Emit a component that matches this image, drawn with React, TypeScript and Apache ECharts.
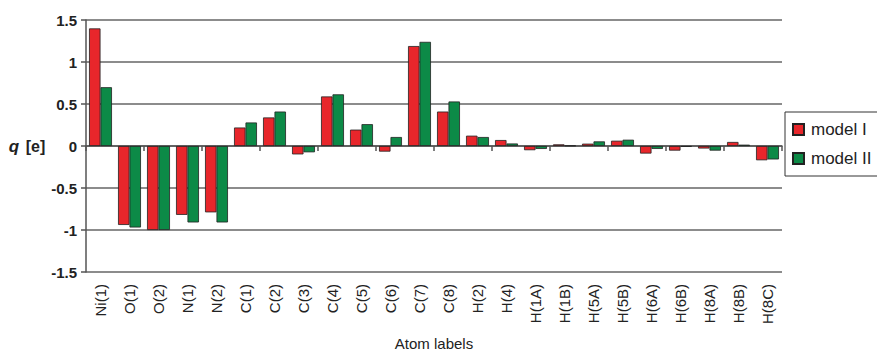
import React, { useEffect, useRef } from "react";
import * as echarts from "echarts";

// Atomic charges per atom for the two models
const atoms = [
  "Ni(1)", "O(1)", "O(2)", "N(1)", "N(2)", "C(1)", "C(2)", "C(3)", "C(4)", "C(5)",
  "C(6)", "C(7)", "C(8)", "H(2)", "H(4)", "H(1A)", "H(1B)", "H(5A)", "H(5B)", "H(6A)",
  "H(6B)", "H(8A)", "H(8B)", "H(8C)",
];
const modelI = [
  1.40, -0.94, -1.0, -0.82, -0.79, 0.22, 0.34, -0.10, 0.59, 0.195,
  -0.067, 1.19, 0.41, 0.123, 0.071, -0.05, 0.02, 0.028, 0.063, -0.09,
  -0.055, -0.03, 0.048, -0.17,
];
const modelII = [
  0.70, -0.97, -1.0, -0.91, -0.91, 0.28, 0.41, -0.075, 0.615, 0.26,
  0.107, 1.24, 0.53, 0.107, 0.03, -0.035, 0.005, 0.055, 0.075, -0.035,
  -0.01, -0.055, 0.016, -0.16,
];
const seriesNames = ["model I", "model II"];

export default function App() {
  const ref = useRef<HTMLDivElement>(null);

  useEffect(() => {
    if (!ref.current) return;
    const chart = echarts.init(ref.current, undefined, { renderer: "svg" });
    const axisColor = "#555";
    chart.setOption({
      animation: false,
      backgroundColor: "#fff",
      textStyle: { fontFamily: "Liberation Sans, Arial, sans-serif" },
      grid: {
        left: 86,
        right: 95,
        top: 20,
        bottom: 82,
        containLabel: false,
        outerBoundsMode: "none",
      },
      legend: {
        orient: "vertical",
        left: 785,
        top: 112,
        padding: [9, 8, 9, 7],
        itemGap: 12,
        itemWidth: 11,
        itemHeight: 11,
        icon: "rect",
        borderColor: "#333",
        borderWidth: 1,
        backgroundColor: "#fff",
        textStyle: { fontSize: 17, color: "#222", padding: [0, 0, 0, 2] },
        data: seriesNames,
      },
      xAxis: [
        {
          // axis line at q = 0 with ticks between categories
          type: "category",
          data: atoms,
          position: "top",
          axisLine: { onZero: true, lineStyle: { color: axisColor, width: 1.5 } },
          axisTick: { show: true, inside: true, length: 5, lineStyle: { color: axisColor, width: 1.5 } },
          axisLabel: { show: false },
          splitLine: { show: false },
        },
        {
          // category labels along the bottom edge
          type: "category",
          data: atoms,
          position: "bottom",
          axisLine: { show: false, onZero: false },
          axisTick: { show: false },
          axisLabel: { rotate: 90, fontSize: 15, color: "#222", margin: 12, interval: 0 },
          name: "Atom labels",
          nameLocation: "middle",
          nameGap: 64,
          nameTextStyle: { fontSize: 15, color: "#222" },
        },
      ],
      yAxis: {
        type: "value",
        min: -1.5,
        max: 1.5,
        interval: 0.5,
        name: "{q|q}  {e|[e]}",
        nameLocation: "middle",
        nameRotate: 0,
        nameGap: 38,
        nameTextStyle: {
          align: "right",
          rich: {
            q: { fontSize: 17, fontStyle: "italic", fontWeight: "bold", color: "#222" },
            e: { fontSize: 16, fontWeight: "bold", color: "#222" },
          },
        },
        axisLine: { show: true, lineStyle: { color: axisColor, width: 1.5 } },
        axisTick: { show: true, length: 5, lineStyle: { color: axisColor, width: 1.5 } },
        axisLabel: { fontSize: 15, fontWeight: "bold", color: "#222", margin: 9 },
        splitLine: { lineStyle: { color: "#666", width: 1.5 } },
      },
      series: [
        {
          name: seriesNames[0],
          type: "bar",
          data: modelI,
          barGap: "0%",
          barCategoryGap: "21%",
          itemStyle: { color: "#e8262b", borderColor: "#222", borderWidth: 0.8 },
        },
        {
          name: seriesNames[1],
          type: "bar",
          data: modelII,
          itemStyle: { color: "#0c8a47", borderColor: "#222", borderWidth: 0.8 },
        },
      ],
    });
    return () => chart.dispose();
  }, []);

  return <div ref={ref} style={{ width: 877, height: 354, position: "absolute", left: 0, top: 0 }} />;
}
